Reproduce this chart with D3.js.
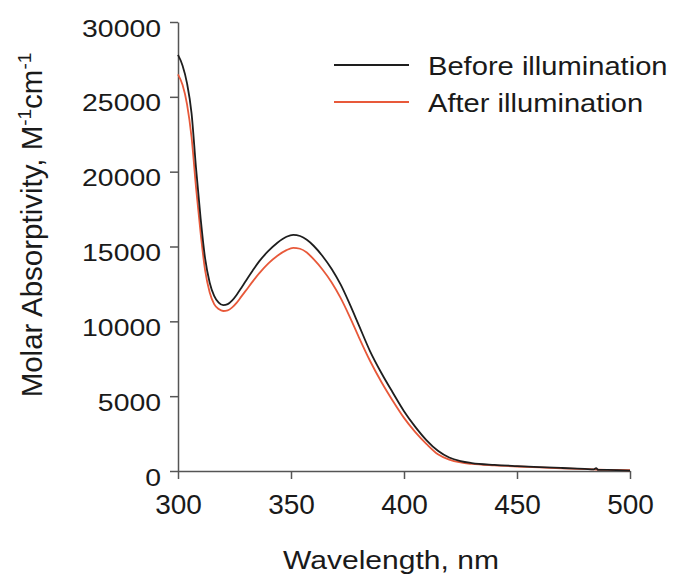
<!DOCTYPE html>
<html>
<head>
<meta charset="utf-8">
<script src="https://cdn.jsdelivr.net/npm/d3@7/dist/d3.min.js"></script>
<style>
  body { margin: 0; background: #fff; }
  svg { display: block; font-family: "Liberation Sans", Arial, sans-serif; }
</style>
</head>
<body>
<svg id="chart" width="679" height="580"></svg>
<script>
// ---- data ----
const wavelengths = [300,302,304,306,308,310,312,314,316,318,320,322,324,326,328,330,333,336,340,344,348,351,354,357,360,364,368,372,376,380,385,390,395,400,405,410,415,420,425,430,440,450,460,470,480,484,485,486,490,500];
const beforeValues = [27800,27100,25900,23900,20200,16900,14200,12600,11700,11250,11080,11150,11400,11780,12230,12700,13380,14020,14700,15250,15650,15780,15700,15450,15050,14350,13500,12450,11150,9750,8000,6550,5250,4000,2950,2050,1350,900,660,530,410,330,260,200,140,115,190,70,70,30];
const afterValues  = [26500,25800,24500,22300,18900,15900,13400,11950,11150,10820,10690,10730,10930,11250,11650,12050,12650,13220,13870,14380,14760,14910,14850,14600,14150,13450,12600,11550,10300,8950,7350,5950,4700,3550,2600,1800,1120,760,570,470,370,300,240,180,125,110,100,95,80,50];
const seriesNames = ["Before illumination", "After illumination"];
const seriesColors = ["#1e1e1e", "#e8593a"];
const xTicks = [300,350,400,450,500];
const yTicks = [0,5000,10000,15000,20000,25000,30000];

// ---- layout ----
const svg = d3.select("#chart");
const x = d3.scaleLinear().domain([300, 500]).range([178, 630]);
const y = d3.scaleLinear().domain([0, 30000]).range([471, 22]);
const axisColor = "#555";
const textColor = "#1a1a1a";

function stretch(sel, k) {
  sel.each(function() {
    const L = this.getComputedTextLength();
    d3.select(this).attr("textLength", L * k).attr("lengthAdjust", "spacingAndGlyphs");
  });
}

// y axis
const gy = svg.append("g").attr("transform", `translate(${x(300)},0)`)
  .call(d3.axisLeft(y).tickValues(yTicks).tickSize(8).tickSizeOuter(0).tickFormat(d3.format("d")));
gy.select(".domain").attr("stroke", axisColor).attr("stroke-width", 1.5);
gy.selectAll(".tick line").attr("stroke", axisColor).attr("stroke-width", 1.5);
gy.selectAll(".tick text").attr("x", -17).attr("dy", null).attr("y", 14)
  .attr("font-size", 24.7).attr("fill", textColor).attr("font-family", "Liberation Sans, Arial, sans-serif")
  .call(stretch, 1.15);

// x axis
const gx = svg.append("g").attr("transform", `translate(0,${y(0)})`)
  .call(d3.axisBottom(x).tickValues(xTicks).tickSize(8).tickSizeOuter(0).tickFormat(d3.format("d")));
gx.select(".domain").attr("stroke", axisColor).attr("stroke-width", 1.5);
gx.selectAll(".tick line").attr("stroke", axisColor).attr("stroke-width", 1.5);
gx.selectAll(".tick text").attr("dy", null).attr("y", 43)
  .attr("font-size", 28).attr("fill", textColor).attr("font-family", "Liberation Sans, Arial, sans-serif");

// lines (after first, before on top)
const line = d3.line().x((d, i) => x(wavelengths[i])).y(d => y(d)).curve(d3.curveMonotoneX);
[[afterValues, 1], [beforeValues, 0]].forEach(([vals, k]) => {
  svg.append("path").datum(vals).attr("d", line)
    .attr("fill", "none").attr("stroke", seriesColors[k]).attr("stroke-width", 1.8)
    .attr("stroke-linejoin", "round");
});

// axis titles
svg.append("text").attr("x", 391).attr("y", 569).attr("text-anchor", "middle")
  .attr("font-size", 26).attr("fill", textColor).text("Wavelength, nm").call(stretch, 1.155);

const yt = svg.append("text").attr("transform", "translate(42,225) rotate(-90)")
  .attr("text-anchor", "middle").attr("font-size", 29.5).attr("fill", textColor);
yt.append("tspan").text("Molar Absorptivity, M");
yt.append("tspan").attr("font-size", 19).attr("dy", -11).text("-1");
yt.append("tspan").attr("dy", 11).text("cm");
yt.append("tspan").attr("font-size", 19).attr("dy", -11).text("-1");

// legend
const legY = [65, 102];
seriesNames.forEach((name, k) => {
  svg.append("line").attr("x1", 334).attr("x2", 409).attr("y1", legY[k]).attr("y2", legY[k])
    .attr("stroke", seriesColors[k]).attr("stroke-width", 2);
  svg.append("text").attr("x", 428).attr("y", legY[k] + 9.5).attr("font-size", 26)
    .attr("fill", textColor).text(name).call(stretch, 1.12);
});
</script>
</body>
</html>
